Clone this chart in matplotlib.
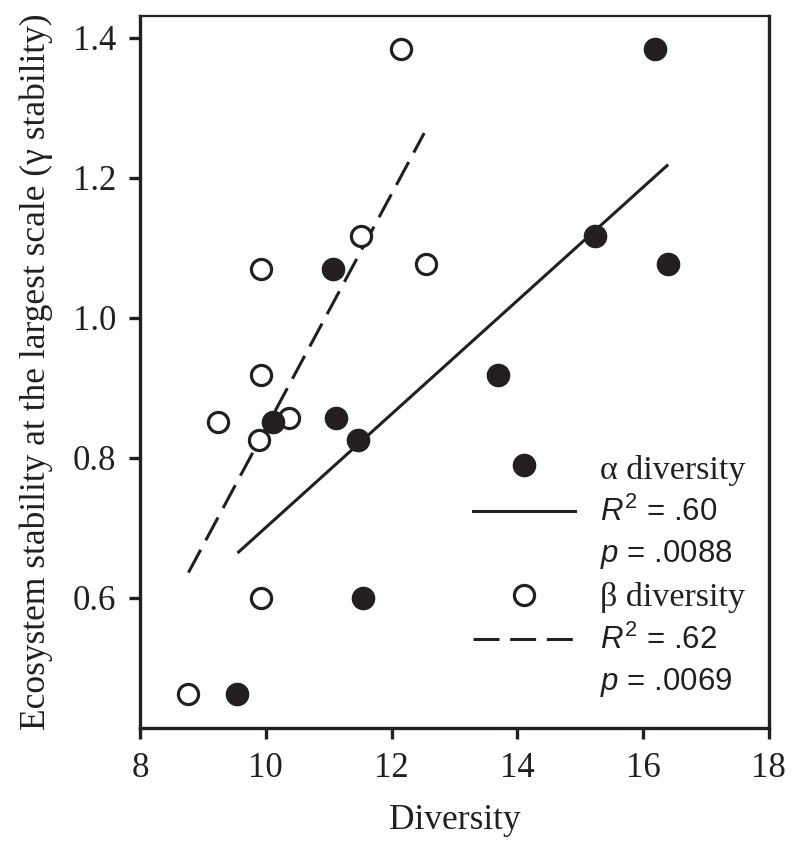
import matplotlib
matplotlib.use('Agg')
import matplotlib.pyplot as plt
import numpy as np

plt.rcParams['font.family'] = ['Liberation Serif', 'DejaVu Serif']
plt.rcParams['mathtext.fontset'] = 'custom'
plt.rcParams['mathtext.rm'] = 'Liberation Sans'
plt.rcParams['mathtext.it'] = 'Liberation Sans:italic'

# gamma stability of each ecosystem (same for both series)
stability = [1.384, 1.117, 1.077, 0.919, 1.07, 0.857, 0.826, 0.851, 0.60, 0.463]
alpha_div = [16.19, 15.24, 16.39, 13.69, 11.07, 11.12, 11.47, 10.12, 11.55, 9.55]
beta_div = [12.15, 11.51, 12.55, 9.93, 9.93, 10.37, 9.90, 9.24, 9.92, 8.77]

# fitted regression lines (end points)
alpha_fit_x = [9.55, 16.40]
alpha_fit_y = [0.664, 1.219]
beta_fit_x = [8.77, 12.52]
beta_fit_y = [0.636, 1.264]

alpha_stats = ['$R^2$ = .60', '$p$ = .0088']
beta_stats = ['$R^2$ = .62', '$p$ = .0069']

ink = '#231f20'
fig = plt.figure(figsize=(8, 8.51), dpi=100)
ax = fig.add_axes([0.175, 0.1445, 0.786, 0.8365])

lw = 2.2
ax.plot(alpha_fit_x, alpha_fit_y, color=ink, lw=lw, solid_capstyle='butt')
ax.plot(beta_fit_x, beta_fit_y, color=ink, lw=lw, dashes=(8.5, 3.5))

ax.plot(beta_div, stability, 'o', ms=14.5, mfc='white', mec=ink, mew=2.3, zorder=3)
ax.plot(alpha_div, stability, 'o', ms=16, mfc=ink, mec=ink, zorder=4)

ax.set_xlim(8, 18)
ax.set_ylim(0.414, 1.431)
ax.set_xticks([8, 10, 12, 14, 16, 18])
ax.set_yticks([0.6, 0.8, 1.0, 1.2, 1.4])
ax.set_yticklabels(['0.6', '0.8', '1.0', '1.2', '1.4'])

for s in ax.spines.values():
    s.set_linewidth(2.4)
    s.set_color(ink)
ax.spines['top'].set_linewidth(1.6)
ax.tick_params(direction='out', length=8, width=2.4, color=ink,
               labelsize=25, labelcolor=ink, pad=9)

ax.set_xlabel('Diversity', fontsize=25.5, color=ink, labelpad=14)
ax.set_ylabel('Ecosystem stability at the largest scale (\u03b3 stability)',
              fontsize=25.5, color=ink, labelpad=14)

# hand-made legend
tr = ax.transAxes
kx, lx0, lx1, tx = 0.610, 0.529, 0.692, 0.731
ax.plot([kx], [0.369], 'o', ms=16, mfc=ink, mec=ink, transform=tr)
ax.plot([lx0, lx1], [0.305, 0.305], color=ink, lw=lw, transform=tr)
ax.plot([kx], [0.187], 'o', ms=14.5, mfc='white', mec=ink, mew=2.3, transform=tr)
ax.plot([lx0, lx1], [0.125, 0.125], color=ink, lw=lw, dashes=(8.5, 3.5), transform=tr)

sans = ['Liberation Sans', 'DejaVu Sans']
ax.text(tx, 0.362, '\u03b1 diversity', fontsize=24.5, va='center', transform=tr, color=ink)
ax.text(tx, 0.303, alpha_stats[0], fontsize=22.5, va='center', transform=tr, color=ink, family=sans)
ax.text(tx, 0.244, alpha_stats[1], fontsize=22.5, va='center', transform=tr, color=ink, family=sans)
ax.text(tx, 0.183, '\u03b2 diversity', fontsize=24.5, va='center', transform=tr, color=ink)
ax.text(tx, 0.123, beta_stats[0], fontsize=22.5, va='center', transform=tr, color=ink, family=sans)
ax.text(tx, 0.064, beta_stats[1], fontsize=22.5, va='center', transform=tr, color=ink, family=sans)

fig.savefig('out.png', dpi=100)
